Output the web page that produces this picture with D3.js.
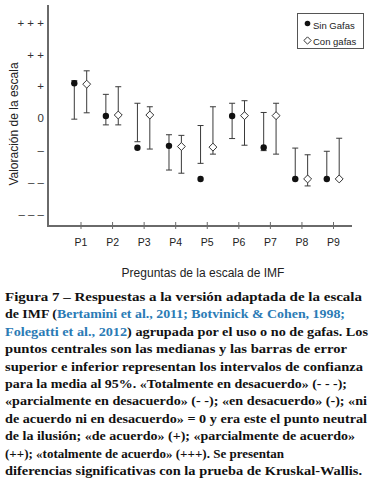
<!DOCTYPE html>
<html><head><meta charset="utf-8">
<script src="https://cdn.jsdelivr.net/npm/d3@7"></script>
<style>body{margin:0;background:#fff}svg{display:block}</style>
</head><body><svg id="c" width="372" height="480"></svg>
<script>
// ---- data ----
const questions = ["P1","P2","P3","P4","P5","P6","P7","P8","P9"];
const sinMedian = [1.03, 0.0, -1.0, -0.94, -1.98, 0.0, -0.99, -1.98, -1.98];
const sinUpper  = [1.11, 0.68, 0.40, -0.59, -0.30, 0.40, 0.11, -1.01, -1.11];
const sinLower  = [-0.10, -0.28, -0.81, -1.70, -1.49, -0.71, -1.09, -1.98, -1.98];
const conMedian = [1.0, 0.03, 0.03, -0.96, -0.98, 0.01, 0.01, -1.98, -1.98];
const conUpper  = [1.42, 0.92, 0.29, -0.61, 0.29, 0.48, 0.40, -1.22, -0.70];
const conLower  = [0.10, -0.28, -1.04, -1.80, -1.20, -0.92, -1.20, -2.20, -1.98];
const yTickValues = [3, 2, 1, 0, -1, -2, -3];
const yTickLabels = ["+ + +", "+ +", "+", "0", "–", "– –", "– – –"];
const seriesNames = ["Sin Gafas", "Con gafas"];
const xTitle = "Preguntas de la escala de IMF";
const yTitle = "Valoración de la escala";
const captionLines = [
  [["Figura 7 – Respuestas a la versión adaptada de la escala", 0]],
  [["de IMF (", 0], ["Bertamini et al., 2011; Botvinick & Cohen, 1998;", 1]],
  [["Folegatti et al., 2012", 1], [") agrupada por el uso o no de gafas. Los", 0]],
  [["puntos centrales son las medianas y las barras de error", 0]],
  [["superior e inferior representan los intervalos de confianza", 0]],
  [["para la media al 95%. «Totalmente en desacuerdo» (- - -);", 0]],
  [["«parcialmente en desacuerdo» (- -); «en desacuerdo» (-); «ni", 0]],
  [["de acuerdo ni en desacuerdo» = 0 y era este el punto neutral", 0]],
  [["de la ilusión; «de acuerdo» (+); «parcialmente de acuerdo»", 0]],
  [["(++); «totalmente de acuerdo» (+++). Se presentan", 0]],
  [["diferencias significativas con la prueba de Kruskal-Wallis.", 0]]
];
const captionLineEnds = [362, 345, 368, 347, 363, 347, 367, 367, 355, 263, 362];

// ---- chart ----
const svg = d3.select("#c");
const x = d3.scalePoint().domain(questions).range([80.5, 333]);
const y = d3.scaleLinear().domain([-3.46, 3.49]).range([226, 5]);
const off = 6.2, cap = 3;
const axisCol = "#6a6a6a", barCol = "#3a3a3a";
const sans = "'Liberation Sans', Arial, sans-serif";

// x axis
const gx = svg.append("g").attr("transform", "translate(0,226)")
  .call(d3.axisBottom(x).tickSize(3));
gx.select(".domain").remove();
gx.selectAll(".tick line").attr("y1", -4).attr("y2", 3).attr("stroke", axisCol);
gx.selectAll(".tick text").attr("y", 20).attr("dy", 0)
  .attr("font-family", sans).attr("font-size", 10.5).attr("fill", "#222");

// y axis
const gy = svg.append("g").attr("transform", "translate(48,0)")
  .call(d3.axisLeft(y).tickValues(yTickValues)
    .tickFormat((d, i) => yTickLabels[i]).tickSize(0).tickPadding(4));
gy.select(".domain").remove();
gy.selectAll(".tick text").attr("y", 2)
  .attr("font-family", sans).attr("font-size", 11.5).attr("fill", "#333");

svg.append("line").attr("x1", 48).attr("x2", 352).attr("y1", 226).attr("y2", 226)
  .attr("stroke", axisCol).attr("stroke-width", 2);
svg.append("line").attr("x1", 48).attr("x2", 48).attr("y1", 5).attr("y2", 227)
  .attr("stroke", axisCol).attr("stroke-width", 2);

// titles
svg.append("text").attr("x", 203).attr("y", 277).attr("text-anchor", "middle")
  .attr("font-family", sans).attr("font-size", 12).attr("fill", "#222").text(xTitle);
svg.append("text").attr("transform", "translate(18,124) rotate(-90)").attr("text-anchor", "middle")
  .attr("font-family", sans).attr("font-size", 12).attr("fill", "#222").text(yTitle);

// error bars + points
function drawSeries(med, up, lo, dx, kind) {
  const g = svg.append("g");
  questions.forEach((q, i) => {
    const cx = x(q) + dx;
    g.append("line").attr("x1", cx).attr("x2", cx).attr("y1", y(lo[i])).attr("y2", y(up[i]))
      .attr("stroke", barCol).attr("stroke-width", 1);
    [up[i], lo[i]].forEach(v => g.append("line").attr("x1", cx - cap).attr("x2", cx + cap)
      .attr("y1", y(v)).attr("y2", y(v)).attr("stroke", barCol).attr("stroke-width", 1));
  });
  questions.forEach((q, i) => {
    const cx = x(q) + dx, cy = y(med[i]);
    if (kind === "circle") {
      g.append("circle").attr("cx", cx).attr("cy", cy).attr("r", 3.2).attr("fill", "#111");
    } else {
      g.append("path").attr("d", d3.symbol(d3.symbolDiamond2, 40)())
        .attr("transform", `translate(${cx},${cy})`)
        .attr("fill", "#fff").attr("stroke", "#333").attr("stroke-width", 1);
    }
  });
}
drawSeries(sinMedian, sinUpper, sinLower, -off, "circle");
drawSeries(conMedian, conUpper, conLower, off, "diamond");

// legend
const lg = svg.append("g");
lg.append("rect").attr("x", 297.5).attr("y", 13.5).attr("width", 66).attr("height", 35)
  .attr("fill", "#fff").attr("stroke", "#555").attr("stroke-width", 1);
lg.append("circle").attr("cx", 307.5).attr("cy", 23.5).attr("r", 2.8).attr("fill", "#111");
lg.append("path").attr("d", d3.symbol(d3.symbolDiamond2, 34)())
  .attr("transform", "translate(307.5,40.5)").attr("fill", "#fff").attr("stroke", "#333");
seriesNames.forEach((n, i) => lg.append("text").attr("x", 313).attr("y", 29 + i * 15.5)
  .attr("font-family", sans).attr("font-size", 9.5).attr("fill", "#222").text(n));

// caption
const serif = "'Liberation Serif', 'Times New Roman', serif";
const cap0 = 301, lh = 17.4;
captionLines.forEach((segs, li) => {
  const t = svg.append("text").attr("x", 5).attr("y", cap0 + li * lh)
    .attr("font-family", serif).attr("font-weight", "bold").attr("font-size", 13).attr("fill", "#111");
  segs.forEach(([s, blue]) => t.append("tspan").attr("fill", blue ? "#2b7bb5" : "#111").text(s));
  const w = t.node().getComputedTextLength();
  const target = captionLineEnds[li] - 5;
  if (target >= w * 0.97 && Math.abs(target - w) > 0.5)
    t.attr("textLength", target).attr("lengthAdjust", "spacingAndGlyphs");
});
</script></body></html>
